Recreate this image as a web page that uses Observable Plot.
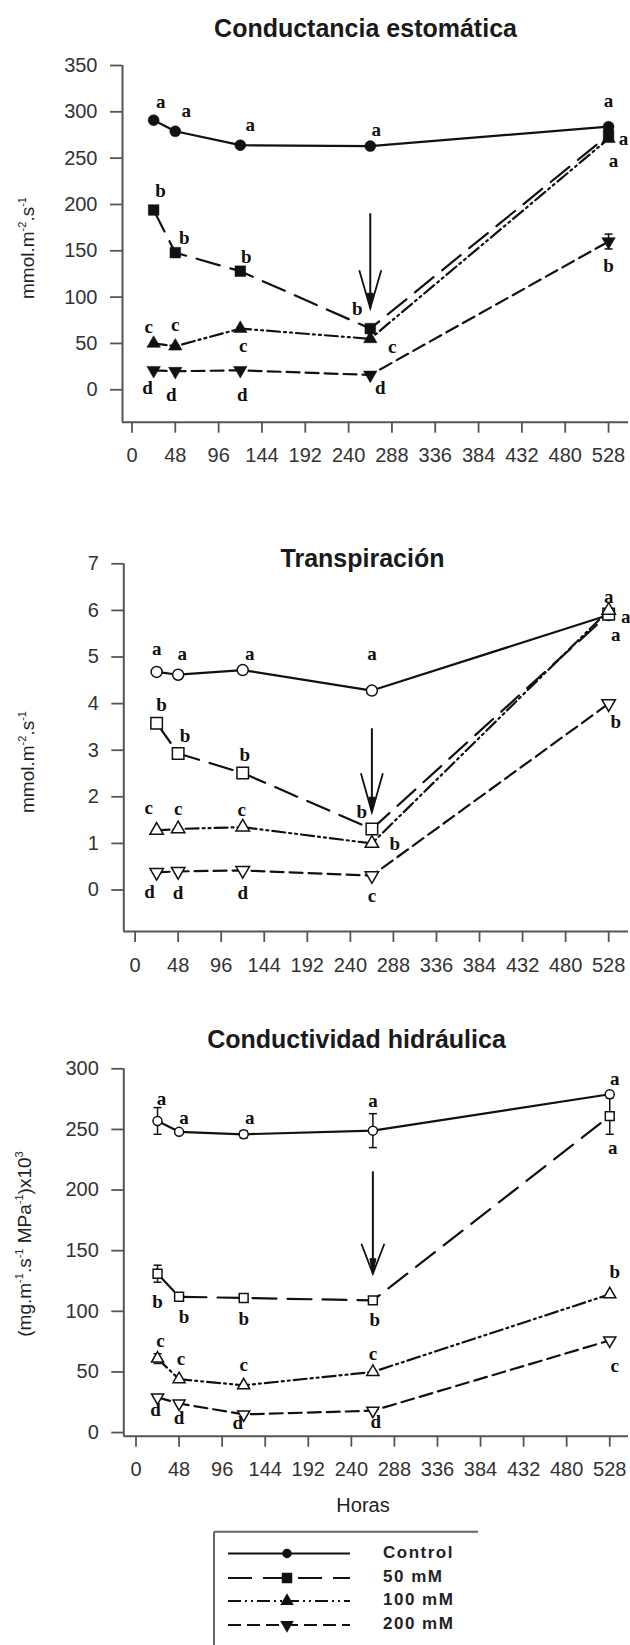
<!DOCTYPE html>
<html><head><meta charset="utf-8">
<script src="https://cdn.jsdelivr.net/npm/d3@7"></script>
<script src="https://cdn.jsdelivr.net/npm/@observablehq/plot@0.6"></script>
<style>
body{margin:0;background:#fff;}
#fig{position:relative;width:630px;height:1645px;overflow:hidden;background:#fff;}
#fig svg{position:absolute;left:0;}
</style></head><body><div id="fig"></div>
<script>
// ---------- DATA ----------
const horas = [24, 48, 120, 264, 528];
const tratamientos = ["Control", "50 mM", "100 mM", "200 mM"];
const xTicks = [0, 48, 96, 144, 192, 240, 288, 336, 384, 432, 480, 528];

// Conductancia estomática (mmol m-2 s-1)
const gsControl = [291, 279, 264, 263, 284];
const gs50 = [194, 148, 128, 66, 275];
const gs100 = [50, 47, 66, 55, 271];
const gs200 = [21, 20, 21, 16, 160];
const gsErr200 = [0, 0, 0, 0, 8];
const gsLetras = [["a","a","a","a","a"],["b","b","b","b","a"],["c","c","c","c","a"],["d","d","d","d","b"]];
const gsTicks = [0, 50, 100, 150, 200, 250, 300, 350];
const gsFlecha = [264, 190, 88];

// Transpiración (mmol m-2 s-1)
const eControl = [4.68, 4.62, 4.72, 4.28, 5.9];
const e50 = [3.58, 2.93, 2.51, 1.31, 5.92];
const e100 = [1.28, 1.31, 1.35, 1.0, 6.0];
const e200 = [0.38, 0.40, 0.42, 0.31, 4.0];
const eLetras = [["a","a","a","a","a"],["b","b","b","b","a"],["c","c","c","b","a"],["d","d","d","c","b"]];
const eTicks = [0, 1, 2, 3, 4, 5, 6, 7];
const eFlecha = [264, 3.46, 1.67];

// Conductividad hidráulica ((mg m-1 s-1 MPa-1) x10^3)
const khControl = [257, 248, 246, 249, 279];
const kh50 = [131, 112, 111, 109, 261];
const kh100 = [61, 44, 39, 50, 114];
const kh200 = [29, 24, 15, 18, 76];
const khErrControl = [11, 0, 3, 14, 0];
const khErr50 = [7, 3, 3, 0, 15];
const khErr100 = [4, 0, 0, 0, 0];
const khErr200 = [0, 0, 0, 0, 0];
const khLetras = [["a","a","a","a","a"],["b","b","b","b","a"],["c","c","c","c","b"],["d","d","d","d","c"]];
const khTicks = [0, 50, 100, 150, 200, 250, 300];
const khFlecha = [264, 215, 131];

// ---------- LAYOUT / STYLE ----------
const AX = "#555", TX = "#333", LC = "#111";
const SANS = "'Liberation Sans', Arial, Helvetica, sans-serif";
const SERIF = "'Liberation Serif', 'Times New Roman', serif";
const dashes = [null, "24,11", "13,4,2,4,2,4", "13,6"];

const triDown = {draw(ctx, size) {
  const y = -Math.sqrt(size / (3 * Math.sqrt(3)));
  ctx.moveTo(0, -y * 2); ctx.lineTo(-Math.sqrt(3) * y, y); ctx.lineTo(Math.sqrt(3) * y, y); ctx.closePath();
}};
const symbols = ["circle", "square", "triangle", triDown];
const cap = {draw(ctx) { ctx.moveTo(-4, 0); ctx.lineTo(4, 0); }};
const vHead = (len, hw) => ({draw(ctx) { ctx.moveTo(-hw, -len); ctx.lineTo(0, 0); ctx.lineTo(hw, -len); }});
const tipHead = {draw(ctx) { ctx.moveTo(-3, -15); ctx.lineTo(0, 0); ctx.lineTo(3, -15); ctx.closePath(); }};

const offs1 = [
  [[7,-18],[11,-20],[10,-20],[6,-16],[0,-26]],
  [[7,-19],[9,-15],[6,-14],[-13,-20],[15,4]],
  [[-5,-17],[0,-21],[3,17],[22,8],[5,22]],
  [[-6,18],[-4,24],[2,25],[10,13],[0,24]]
];
const offs2 = [
  [[0,-23],[4,-21],[7,-16],[0,-37],[17,2]],
  [[5,-18],[7,-18],[2,-18],[-10,-17],[7,21]],
  [[-8,-22],[0,-20],[-1,-17],[23,0],[0,-13]],
  [[-7,20],[0,22],[0,22],[0,20],[7,18]]
];
const offs3 = [
  [[4,-22],[5,-14],[6,-16],[0,-30],[5,-15]],
  [[0,28],[5,20],[0,21],[2,20],[3,32]],
  [[3,-18],[2,-20],[0,-20],[0,-18],[5,-22]],
  [[-2,13],[0,14],[-6,9],[3,11],[5,25]]
];

function chart(c) {
  const mL = c.xRange[0], mR = 630 - c.xRange[1], mT = c.yRange[1], mB = c.height - c.yRange[0];
  const rows = [];
  c.series.forEach((vals, i) => vals.forEach((v, j) => rows.push({
    hora: horas[j], valor: v, trat: tratamientos[i], i,
    err: c.errs[i][j], letra: c.letras[i][j], off: c.offs[i][j]
  })));
  const marks = [];
  marks.push(Plot.ruleY([c.yDomain[0]], {x1: c.xDomain[0], x2: c.xDomain[1], stroke: AX, strokeWidth: 2}));
  marks.push(Plot.ruleX([c.xDomain[0]], {y1: c.yDomain[0], y2: d3.max(c.yTicks), stroke: AX, strokeWidth: 2}));
  marks.push(Plot.axisY({ticks: c.yTicks, tickSize: 12, tickPadding: 13, fontSize: 20, stroke: AX, strokeWidth: 1.8, fill: TX, label: null, tickFormat: d => String(d)}));
  marks.push(Plot.axisX({ticks: xTicks, tickSize: 11, tickPadding: 15, fontSize: 20, stroke: AX, strokeWidth: 1.8, fill: TX, label: null, tickFormat: d => String(d)}));
  // arrow
  const f = c.flecha;
  marks.push(Plot.ruleX([f], {x: d => d[0], y1: d => d[1], y2: d => d[2], stroke: LC, strokeWidth: 2}));
  marks.push(Plot.dot([f], {x: d => d[0], y: d => d[2], r: 1, symbol: vHead(c.head[0], c.head[1]), stroke: LC, fill: "none", strokeWidth: 1.8}));
  marks.push(Plot.dot([f], {x: d => d[0], y: d => d[2], r: 1, symbol: tipHead, fill: LC, stroke: LC, strokeWidth: 1}));
  // series lines
  tratamientos.forEach((t, i) => {
    marks.push(Plot.line(rows.filter(r => r.i === i), {x: "hora", y: "valor", stroke: LC, strokeWidth: 2.2, strokeDasharray: dashes[i] || undefined}));
  });
  // error bars
  const eb = rows.filter(r => r.err > 0);
  marks.push(Plot.ruleX(eb, {x: "hora", y1: r => r.valor - r.err, y2: r => r.valor + r.err, stroke: LC, strokeWidth: 1.5}));
  marks.push(Plot.dot(eb, {x: "hora", y: r => r.valor + r.err, r: 1, symbol: cap, stroke: LC, strokeWidth: 1.5}));
  marks.push(Plot.dot(eb, {x: "hora", y: r => r.valor - r.err, r: 1, symbol: cap, stroke: LC, strokeWidth: 1.5}));
  // markers
  tratamientos.forEach((t, i) => {
    marks.push(Plot.dot(rows.filter(r => r.i === i), {
      x: "hora", y: "valor", r: c.radii[i], symbol: symbols[i],
      fill: c.filled ? LC : "white", stroke: LC, strokeWidth: c.filled ? 0.5 : 1.5
    }));
  });
  // letters
  rows.forEach(r => {
    marks.push(Plot.text([r], {x: "hora", y: "valor", text: "letra", dx: r.off[0], dy: r.off[1],
      fontFamily: SERIF, fontWeight: "bold", fontSize: 19, fill: LC}));
  });
  // title
  marks.push(Plot.text([c.title], {text: d => d, frameAnchor: "top-left", dx: c.titlePos[0] - mL, dy: c.titlePos[1] - mT,
    textAnchor: "middle", lineAnchor: "middle", fontFamily: SANS, fontWeight: "bold", fontSize: 25, fill: "#1a1a1a"}));

  const svg = Plot.plot({
    width: 630, height: c.height,
    marginTop: mT, marginRight: mR, marginBottom: mB, marginLeft: mL,
    x: {domain: c.xDomain},
    y: {domain: c.yDomain},
    style: {fontFamily: SANS, fontSize: "20px", color: TX, background: "transparent", overflow: "visible"},
    marks
  });
  svg.style.top = c.top + "px";
  // rotated y label with superscripts
  const t = d3.select(svg).append("text")
    .attr("transform", `translate(${c.ylabelPos[0]},${c.ylabelPos[1]}) rotate(-90)`)
    .attr("text-anchor", "middle").attr("dominant-baseline", "middle")
    .attr("font-family", SANS).attr("font-size", 19).attr("fill", "#222");
  c.ylabel.forEach(([s, sup]) => {
    const ts = t.append("tspan").text(s);
    if (sup) ts.attr("font-size", 11).attr("baseline-shift", "super");
  });
  if (c.xlabel) {
    d3.select(svg).append("text").attr("x", c.xlabel[1]).attr("y", c.xlabel[2])
      .attr("text-anchor", "middle").attr("dominant-baseline", "middle")
      .attr("font-family", SANS).attr("font-size", 20).attr("fill", "#222").text(c.xlabel[0]);
  }
  return svg;
}

const fig = document.getElementById("fig");
fig.appendChild(chart({
  top: 0, height: 480,
  xDomain: [-10.5, 550.1], xRange: [122, 628],
  yDomain: [-35, 350], yRange: [421.7, 65], yTicks: gsTicks,
  series: [gsControl, gs50, gs100, gs200],
  errs: [[0,0,0,0,0],[0,0,0,0,0],[0,0,0,0,0], gsErr200],
  letras: gsLetras, offs: offs1, filled: true, radii: [5.5, 6, 5, 5],
  flecha: gsFlecha, head: [38, 11],
  title: "Conductancia estomática", titlePos: [365, 28],
  ylabel: [["mmol.m"], ["-2", true], [".s"], ["-1", true]], ylabelPos: [29, 248]
}));
fig.appendChild(chart({
  top: 480, height: 500,
  xDomain: [-12.6, 550.1], xRange: [123.3, 628],
  yDomain: [-0.89, 7], yRange: [451, 83.3], yTicks: eTicks,
  series: [eControl, e50, e100, e200],
  errs: [[0,0,0,0,0],[0,0,0,0,0],[0,0,0,0,0],[0,0,0,0,0]],
  letras: eLetras, offs: offs2, filled: false, radii: [5.5, 6.5, 5, 5],
  flecha: eFlecha, head: [39, 11],
  title: "Transpiración", titlePos: [362, 78],
  ylabel: [["mmol.m"], ["-2", true], [".s"], ["-1", true]], ylabelPos: [29, 282]
}));
fig.appendChild(chart({
  top: 980, height: 540,
  xDomain: [-13.6, 548.9], xRange: [123.3, 628],
  yDomain: [-3, 300], yRange: [455.7, 88.3], yTicks: khTicks,
  series: [khControl, kh50, kh100, kh200],
  errs: [khErrControl, khErr50, khErr100, khErr200],
  letras: khLetras, offs: offs3, filled: false, radii: [4.5, 5, 4.5, 4.5],
  flecha: khFlecha, head: [30, 11.5],
  title: "Conductividad hidráulica", titlePos: [356, 59],
  ylabel: [["(mg.m"], ["-1", true], [".s"], ["-1", true], [" MPa"], ["-1", true], [")x10"], ["3", true]], ylabelPos: [26, 264],
  xlabel: ["Horas", 363, 527]
}));

// ---------- LEGEND ----------
const leg = d3.create("svg").attr("width", 630).attr("height", 125).style("top", "1520px");
leg.append("line").attr("x1", 214).attr("x2", 478).attr("y1", 11.7).attr("y2", 11.7).attr("stroke", "#666").attr("stroke-width", 2);
leg.append("line").attr("x1", 214).attr("x2", 214).attr("y1", 11.7).attr("y2", 125).attr("stroke", "#666").attr("stroke-width", 2);
const rowsY = [33.5, 58, 81, 105];
const symGen = [d3.symbolCircle, d3.symbolSquare, d3.symbolTriangle, triDown];
const symSize = [70, 110, 80, 80];
tratamientos.forEach((t, i) => {
  const y = rowsY[i];
  leg.append("line").attr("x1", 228).attr("x2", 350).attr("y1", y).attr("y2", y)
    .attr("stroke", LC).attr("stroke-width", 2.2).attr("stroke-dasharray", dashes[i]);
  leg.append("path").attr("d", d3.symbol(symGen[i], symSize[i])()).attr("transform", `translate(287,${y})`).attr("fill", LC);
  leg.append("text").attr("x", 383).attr("y", y).attr("dominant-baseline", "middle")
    .attr("font-family", SANS).attr("font-weight", "bold").attr("font-size", 17)
    .attr("letter-spacing", "1.5px").attr("fill", "#222").text(t);
});
fig.appendChild(leg.node());
</script>
</body></html>
